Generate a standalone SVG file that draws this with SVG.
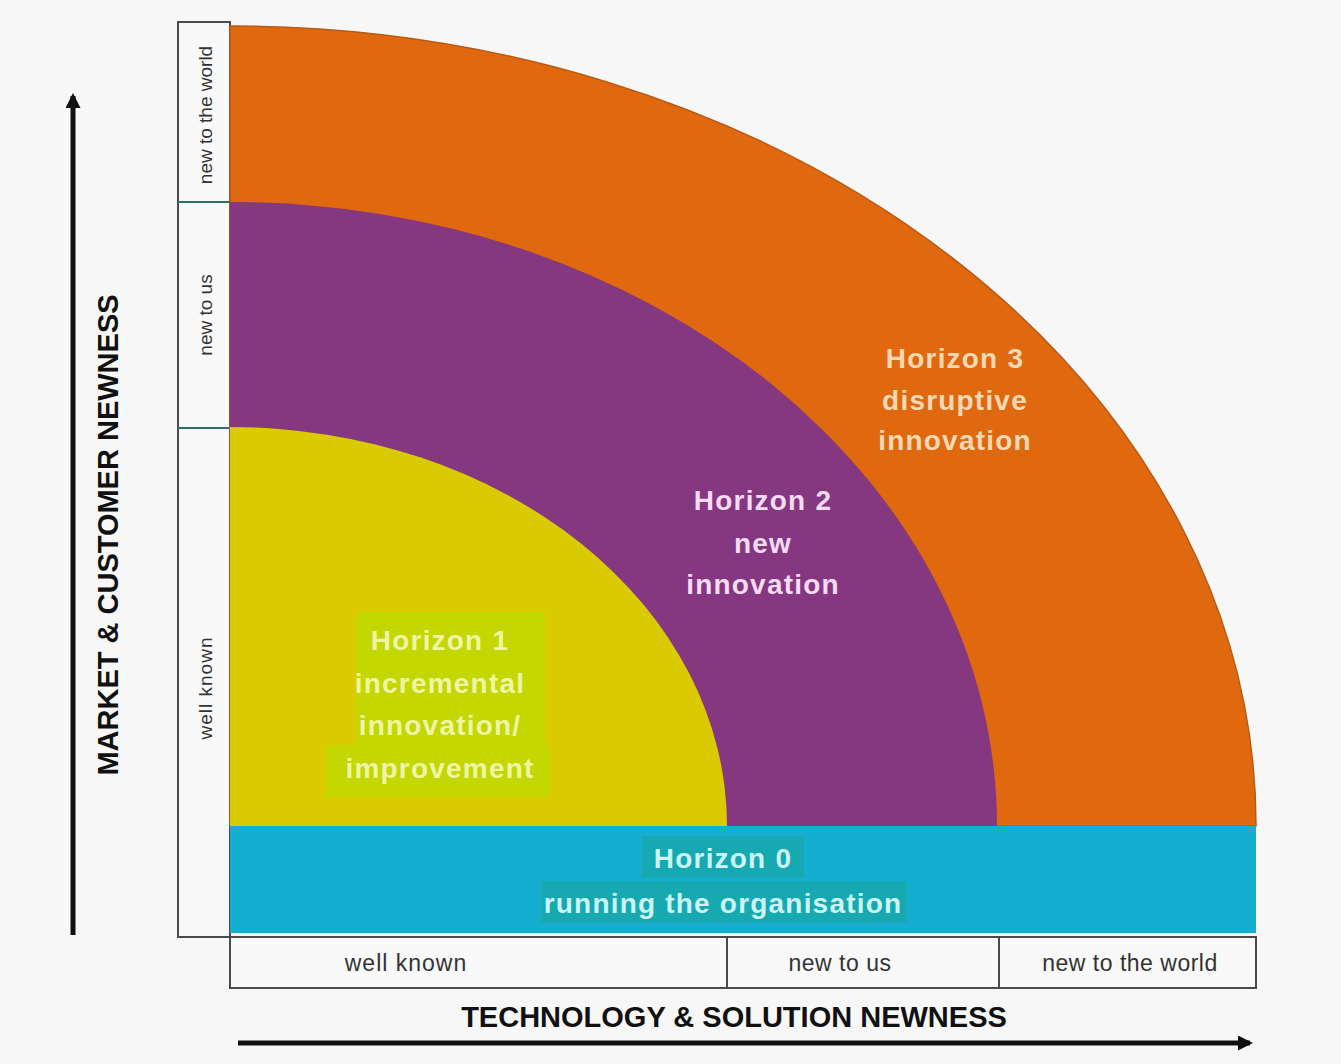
<svg xmlns="http://www.w3.org/2000/svg" width="1341" height="1064" viewBox="0 0 1341 1064">
  <defs>
    <style>
      .lbl { font-family: "Liberation Sans", Arial, sans-serif; fill: #333; text-anchor: middle; }
      .hz { font-family: "Liberation Sans", Arial, sans-serif; font-weight: bold; font-size: 28px; letter-spacing: 1.2px; text-anchor: middle; }
      .axis { font-family: "Liberation Sans", Arial, sans-serif; font-weight: bold; font-size: 29px; fill: #111; text-anchor: middle; }
      .box { fill: #f9f9f9; stroke: #4a4a4a; stroke-width: 2; }
      .div { stroke: #2f6e6a; stroke-width: 2; }
      .arrow { stroke: #111; stroke-width: 5; fill: none; }
    </style>
    <marker id="ah" viewBox="0 0 10 10" refX="8" refY="5" markerWidth="3" markerHeight="3" orient="auto">
      <path d="M0,0 L10,5 L0,10 Z" fill="#111"/>
    </marker>
  </defs>
  <rect x="0" y="0" width="1341" height="1064" fill="#f7f7f7"/>

  <g id="axis-left-column">
    <rect class="box" x="178" y="22" width="52" height="915"/>
    <line class="div" x1="178" y1="202" x2="230" y2="202"/>
    <line class="div" x1="178" y1="428" x2="230" y2="428"/>
    <text class="lbl" font-size="19" transform="translate(212,115) rotate(-90)">new to the world</text>
    <text class="lbl" font-size="19" transform="translate(212,315) rotate(-90)">new to us</text>
    <text class="lbl" font-size="19" letter-spacing="1" transform="translate(212,688) rotate(-90)">well known</text>
  </g>

  <g id="axis-bottom-row">
    <rect class="box" x="230" y="937" width="1026" height="51"/>
    <line x1="727" y1="937" x2="727" y2="988" stroke="#4a4a4a" stroke-width="2"/>
    <line x1="999" y1="937" x2="999" y2="988" stroke="#4a4a4a" stroke-width="2"/>
    <text class="lbl" font-size="23" letter-spacing="1" x="406" y="971">well known</text>
    <text class="lbl" font-size="23" letter-spacing="0.5" x="840" y="971">new to us</text>
    <text class="lbl" font-size="23" letter-spacing="0.5" x="1130" y="971">new to the world</text>
  </g>

  <g id="horizon3">
    <path d="M230,826 L230,26 A1026,800 0 0 1 1256,826 Z" fill="#e0680f" stroke="#b85a14" stroke-width="1.5"/>
    <text class="hz" fill="#f6d9b4" x="955" y="368">Horizon 3</text>
    <text class="hz" fill="#f6d9b4" x="955" y="410">disruptive</text>
    <text class="hz" fill="#f6d9b4" x="955" y="450">innovation</text>
  </g>

  <g id="horizon2">
    <path d="M230,826 L230,202 A767,624 0 0 1 997,826 Z" fill="#85387f"/>
    <text class="hz" fill="#f6dcf6" x="763" y="510">Horizon 2</text>
    <text class="hz" fill="#f6dcf6" x="763" y="553">new</text>
    <text class="hz" fill="#f6dcf6" x="763" y="594">innovation</text>
  </g>

  <g id="horizon1">
    <path d="M230,826 L230,427 A497,399 0 0 1 727,826 Z" fill="#d9cb00"/>
    <rect x="357" y="612" width="188" height="140" fill="#c4d700"/>
    <rect x="326" y="745" width="224" height="52" fill="#c4d700"/>
    <text class="hz" fill="#eef6a6" x="440" y="650">Horizon 1</text>
    <text class="hz" fill="#eef6a6" x="440" y="693">incremental</text>
    <text class="hz" fill="#eef6a6" x="440" y="735">innovation/</text>
    <text class="hz" fill="#eef6a6" x="440" y="778">improvement</text>
  </g>

  <g id="horizon0">
    <rect x="230" y="826" width="1026" height="107" fill="#13aed0"/>
    <rect x="642" y="836" width="162" height="42" fill="#16a9b2"/>
    <rect x="541" y="881" width="366" height="42" fill="#16a9b2"/>
    <text class="hz" fill="#ccf5f5" x="723" y="868">Horizon 0</text>
    <text class="hz" fill="#ccf5f5" x="723" y="913">running the organisation</text>
  </g>

  <g id="axis-titles">
    <text class="axis" x="734" y="1027">TECHNOLOGY &amp; SOLUTION NEWNESS</text>
    <text class="axis" transform="translate(118,535) rotate(-90)">MARKET &amp; CUSTOMER NEWNESS</text>
  </g>

  <g id="connectors">
    <line class="arrow" x1="238" y1="1043" x2="1250" y2="1043" marker-end="url(#ah)"/>
    <line class="arrow" x1="73" y1="935" x2="73" y2="96" marker-end="url(#ah)"/>
  </g>
</svg>
